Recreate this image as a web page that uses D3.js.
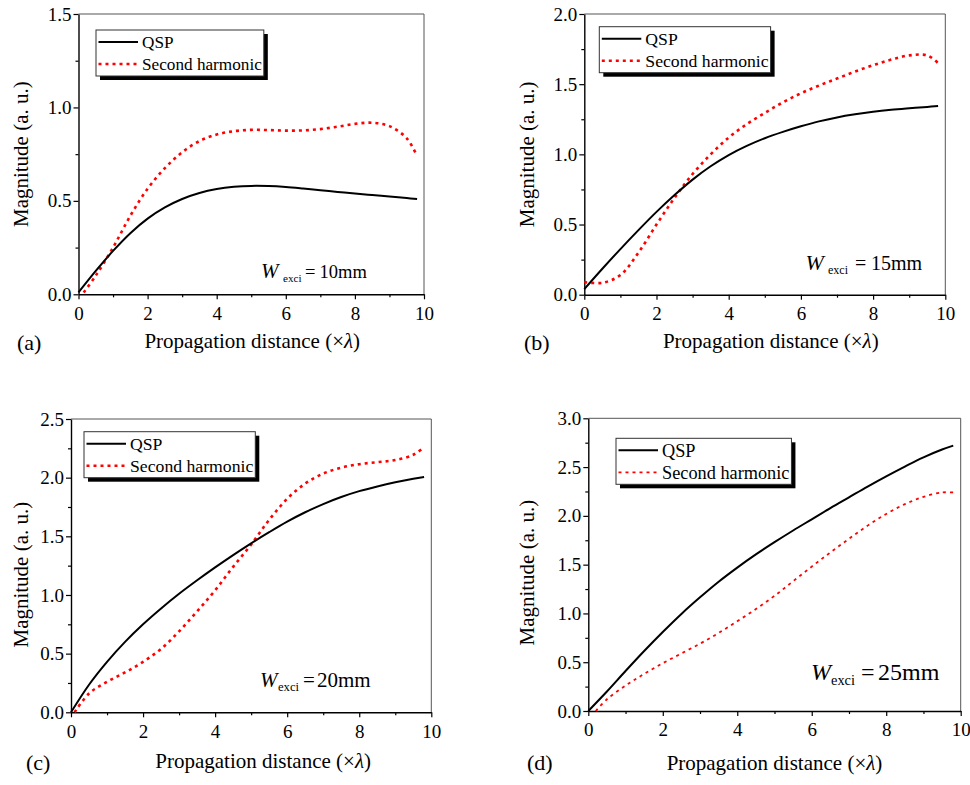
<!DOCTYPE html>
<html>
<head>
<meta charset="utf-8">
<script src="https://cdn.jsdelivr.net/npm/d3@7/dist/d3.min.js"></script>
<style>
    body { margin: 0; background: #fff; }
    svg { display: block; font-family: "Liberation Serif", "Times New Roman", serif; }
</style>
</head>
<body>
<svg id="chart" width="970" height="785"></svg>
<script>
// Propagation distance grid (x lambda), shared by all series
const dist = [0, 0.5, 1, 1.5, 2, 2.5, 3, 3.5, 4, 4.5, 5, 5.5, 6, 6.5, 7, 7.5, 8, 8.5, 9, 9.5, 9.8];
// second harmonic curves start a little after 0; first value belongs to this onset
const shOnset = [0.15, 0, 0.1, 0.2];

const qspA = [0.01, 0.125, 0.232, 0.327, 0.405, 0.465, 0.51, 0.542, 0.563, 0.575, 0.58, 0.579, 0.574, 0.566, 0.557, 0.548, 0.539, 0.531, 0.523, 0.515, 0.51];
const shA  = [0.01, 0.10, 0.25, 0.42, 0.565, 0.675, 0.76, 0.82, 0.855, 0.873, 0.88, 0.879, 0.876, 0.877, 0.884, 0.897, 0.912, 0.918, 0.9, 0.835, 0.74];

const qspB = [0.04, 0.185, 0.325, 0.46, 0.59, 0.71, 0.82, 0.915, 0.995, 1.06, 1.115, 1.16, 1.2, 1.235, 1.263, 1.285, 1.303, 1.317, 1.328, 1.338, 1.345];
const shB  = [0.09, 0.085, 0.14, 0.3, 0.5, 0.69, 0.86, 1.0, 1.12, 1.215, 1.295, 1.37, 1.435, 1.49, 1.54, 1.59, 1.635, 1.675, 1.705, 1.705, 1.65];

const qspC = [0, 0.235, 0.43, 0.6, 0.75, 0.885, 1.01, 1.125, 1.235, 1.34, 1.44, 1.535, 1.625, 1.705, 1.775, 1.835, 1.885, 1.925, 1.96, 1.99, 2.005];
const shC  = [0, 0.16, 0.26, 0.34, 0.43, 0.54, 0.69, 0.86, 1.04, 1.24, 1.43, 1.64, 1.82, 1.95, 2.035, 2.085, 2.115, 2.132, 2.15, 2.195, 2.26];

const qspD = [0, 0.2, 0.41, 0.615, 0.81, 0.995, 1.165, 1.325, 1.47, 1.605, 1.73, 1.85, 1.965, 2.08, 2.19, 2.3, 2.405, 2.505, 2.6, 2.68, 2.72];
const shD  = [0, 0.12, 0.26, 0.38, 0.49, 0.59, 0.69, 0.8, 0.92, 1.045, 1.18, 1.33, 1.48, 1.625, 1.765, 1.9, 2.02, 2.12, 2.195, 2.24, 2.24];

const yMaxes = [1.5, 2.0, 2.5, 3.0];
const xTicks = [0, 2, 4, 6, 8, 10];
const xMinor = [1, 3, 5, 7, 9];
const panelTags = ["(a)", "(b)", "(c)", "(d)"];
const widthLabels = ["10mm", "15mm", "20mm", "25mm"];
const legendNames = ["QSP", "Second harmonic"];
const xTitle = "Propagation distance (\u00d7";
const yTitle = "Magnitude (a. u.)";

const qspSeries = [qspA, qspB, qspC, qspD];
const shSeries = [shA, shB, shC, shD];

// pixel layout of each panel
const layout = [
    { left: 78.5, right: 424, top: 14, bottom: 294.3, legX: 96, legY: 30, legFont: 17.2,
      annY: 278, annFont: 18.5, wFont: 21, wX: 261, subX: 283, eqX: 305, valX: 319.5,
      tagX: 17, tagY: 350, xtDx: 1, xtY: 348, ytX: 21, ytDy: 0, shWidth: 2.6 },
    { left: 584.3, right: 945.3, top: 14, bottom: 294.7, legX: 599.3, legY: 26.7, legFont: 17.7,
      annY: 270, annFont: 20, wFont: 22, wX: 805.5, subX: 828, eqX: 855, valX: 871,
      tagX: 524, tagY: 350, xtDx: 6, xtY: 348, ytX: 527, ytDy: 0, shWidth: 2.6 },
    { left: 71, right: 431.3, top: 419, bottom: 712.3, legX: 84, legY: 431.7, legFont: 17.7,
      annY: 687, annFont: 21, wFont: 21, wX: 260, subX: 278, eqX: 303, valX: 317,
      tagX: 26, tagY: 770, xtDx: 12, xtY: 768, ytX: 21, ytDy: 9, shWidth: 2.6 },
    { left: 588.3, right: 960.7, top: 418.3, bottom: 711, legX: 616, legY: 438.3, legFont: 18.3,
      annY: 680, annFont: 24, wFont: 24, wX: 811, subX: 831, eqX: 861, valX: 878,
      tagX: 527, tagY: 770, xtDx: 0, xtY: 770, ytX: 527, ytDy: 8, shWidth: 1.8 }
];

const svg = d3.select('#chart');

function drawPanel(i) {
    const L = layout[i];
    const yMax = yMaxes[i];
    const g = svg.append("g").attr("class", "panel");

    const x = d3.scaleLinear().domain([0, 10]).range([L.left, L.right]);
    const y = d3.scaleLinear().domain([0, yMax]).range([L.bottom, L.top]);

    // frame: top and right are thin grey lines
    g.append("line")
        .attr("x1", L.left).attr("x2", L.right)
        .attr("y1", L.top).attr("y2", L.top)
        .attr("stroke", "#555").attr("stroke-width", 1);
    g.append("line")
        .attr("x1", L.right).attr("x2", L.right)
        .attr("y1", L.top).attr("y2", L.bottom)
        .attr("stroke", "#555").attr("stroke-width", 1);

    const yMajor = d3.range(0, yMax + 0.001, 0.5);
    const yMinor = d3.range(0.25, yMax, 0.5);

    g.append("g")
        .attr("transform", `translate(0,${L.bottom})`)
        .call(d3.axisBottom(x).tickValues(xTicks).tickSize(5).tickSizeOuter(0).tickPadding(7).tickFormat(d3.format("d")));
    g.append("g")
        .attr("transform", `translate(0,${L.bottom})`)
        .call(d3.axisBottom(x).tickValues(xMinor).tickSize(3).tickFormat(""))
        .call(a => a.select(".domain").remove());

    g.append("g")
        .attr("transform", `translate(${L.left},0)`)
        .call(d3.axisLeft(y).tickValues(yMajor).tickSize(5).tickSizeOuter(0).tickPadding(2).tickFormat(d3.format(".1f")));
    g.append("g")
        .attr("transform", `translate(${L.left},0)`)
        .call(d3.axisLeft(y).tickValues(yMinor).tickSize(3).tickFormat(""))
        .call(a => a.select(".domain").remove());

    g.selectAll(".domain").attr("stroke", "#000").attr("stroke-width", 1.4);
    g.selectAll(".tick line").attr("stroke", "#000").attr("stroke-width", 1.2);
    g.selectAll(".tick text")
        .attr("font-family", '"Liberation Serif", serif')
        .attr("font-size", 19)
        .attr("fill", "#000");

    // curves
    const qspPts = dist.map((d, k) => [d, qspSeries[i][k]]);
    const shPts = dist.map((d, k) => [k === 0 ? shOnset[i] : d, shSeries[i][k]]);
    const line = d3.line()
        .x(d => x(d[0]))
        .y(d => y(d[1]))
        .curve(d3.curveCatmullRom.alpha(0.5));

    g.append("path")
        .attr("d", line(shPts))
        .attr("fill", "none")
        .attr("stroke", "#ff0000")
        .attr("stroke-width", L.shWidth)
        .attr("stroke-dasharray", "3,4");
    g.append("path")
        .attr("d", line(qspPts))
        .attr("fill", "none")
        .attr("stroke", "#000")
        .attr("stroke-width", 2);

    // legend with drop shadow
    const leg = g.append("g").attr("transform", `translate(${L.legX},${L.legY})`);
    const shadow = leg.append("rect");
    const box = leg.append("rect");
    const rows = [12, 34];
    let textW = 0;
    legendNames.forEach((name, k) => {
        leg.append("line")
            .attr("x1", 2.5).attr("x2", 42)
            .attr("y1", rows[k]).attr("y2", rows[k])
            .attr("stroke", k === 0 ? "#000" : "#ff0000")
            .attr("stroke-width", k === 0 ? 2 : L.shWidth)
            .attr("stroke-dasharray", k === 0 ? null : "3,4");
        const t = leg.append("text")
            .attr("x", 46)
            .attr("y", rows[k])
            .attr("dy", "0.35em")
            .attr("font-size", L.legFont)
            .text(name);
        textW = Math.max(textW, t.node().getComputedTextLength());
    });
    const boxW = 46 + textW + 2;
    const boxH = 46;
    shadow.attr("x", 4).attr("y", 4).attr("width", boxW).attr("height", boxH).attr("fill", "#000");
    box.attr("x", 0).attr("y", 0).attr("width", boxW).attr("height", boxH)
        .attr("fill", "#fff").attr("stroke", "#333").attr("stroke-width", 1);

    // W_exci annotation
    const f = L.annFont;
    g.append("text")
        .attr("x", L.wX).attr("y", L.annY)
        .attr("font-size", L.wFont).attr("font-style", "italic")
        .text("W");
    g.append("text")
        .attr("x", L.subX).attr("y", L.annY + f * 0.2)
        .attr("font-size", f * 0.6)
        .text("exci");
    g.append("text")
        .attr("x", L.eqX).attr("y", L.annY)
        .attr("font-size", f)
        .text("=");
    g.append("text")
        .attr("x", L.valX).attr("y", L.annY)
        .attr("font-size", f)
        .text(widthLabels[i]);

    // axis titles
    const xt = g.append("text")
        .attr("x", (L.left + L.right) / 2 + L.xtDx)
        .attr("y", L.xtY)
        .attr("text-anchor", "middle")
        .attr("font-size", 21);
    xt.append("tspan").text(xTitle);
    xt.append("tspan").attr("font-style", "italic").text("\u03bb");
    xt.append("tspan").text(")");

    g.append("text")
        .attr("transform", `translate(${L.ytX},${(L.top + L.bottom) / 2 + L.ytDy}) rotate(-90)`)
        .attr("text-anchor", "middle")
        .attr("dy", "0.35em")
        .attr("font-size", 21)
        .text(yTitle);

    g.append("text")
        .attr("x", L.tagX)
        .attr("y", L.tagY)
        .attr("font-size", 22)
        .text(panelTags[i]);
}

for (let i = 0; i < 4; i++) drawPanel(i);
</script>
</body>
</html>
